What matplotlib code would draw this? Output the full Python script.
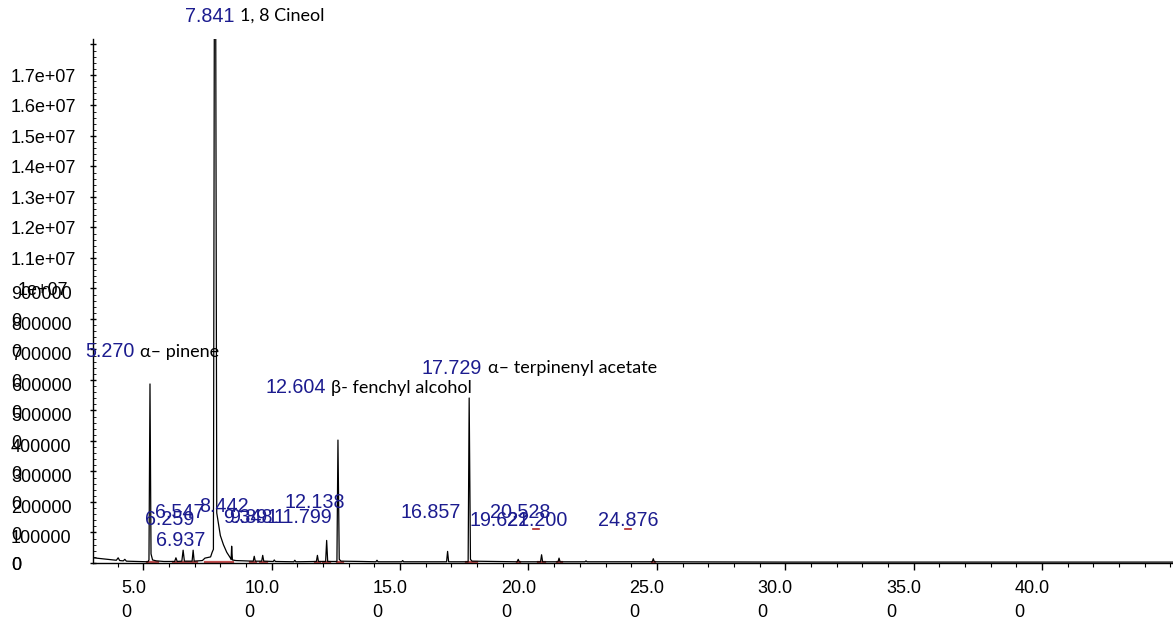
import numpy as np
import matplotlib
matplotlib.use("Agg")
import matplotlib.pyplot as plt
from matplotlib.ticker import FixedLocator, MultipleLocator
from matplotlib.transforms import ScaledTranslation, blended_transform_factory

# ── chromatogram trace: retention time (min) vs abundance (x1e6 counts) ─────────
TIME = [3.06, 3.5, 3.95, 4.02, 4.08, 4.22, 4.28, 4.34, 5.18, 5.22, 5.26, 5.30, 5.36,
        5.5, 5.8, 6.22, 6.27, 6.32, 6.50, 6.55, 6.60, 6.90, 6.94, 6.98, 7.30, 7.40,
        7.62, 7.68, 7.73, 7.79, 7.86, 8.0, 8.12, 8.25, 8.38, 8.42, 8.44, 8.47, 8.6,
        9.28, 9.32, 9.36, 9.61, 9.65, 9.69, 10.06, 10.1, 10.14, 10.86, 10.9, 10.94,
        11.74, 11.78, 11.82, 12.10, 12.14, 12.18, 12.54, 12.58, 12.63, 12.7, 13.5,
        14.06, 14.1, 14.14, 15.06, 15.1, 15.14, 16.81, 16.85, 16.89, 17.65, 17.69,
        17.74, 17.8, 19.56, 19.6, 19.64, 20.47, 20.51, 20.55, 21.15, 21.19, 21.23,
        22.2, 22.24, 22.28, 24.82, 24.86, 24.9, 30.0, 45.1]
ABUND = [0.17, 0.13, 0.09, 0.17, 0.08, 0.07, 0.12, 0.06, 0.04, 0.10, 5.87, 0.30, 0.10,
         0.07, 0.05, 0.05, 0.17, 0.05, 0.06, 0.42, 0.06, 0.06, 0.42, 0.06, 0.08, 0.16,
         0.20, 0.35, 0.45, 30.0, 1.64, 0.90, 0.60, 0.35, 0.18, 0.12, 0.55, 0.10, 0.08,
         0.06, 0.22, 0.06, 0.06, 0.25, 0.06, 0.05, 0.10, 0.05, 0.04, 0.09, 0.04,
         0.05, 0.25, 0.05, 0.05, 0.74, 0.05, 0.05, 4.03, 0.12, 0.06, 0.05,
         0.04, 0.09, 0.04, 0.04, 0.08, 0.04, 0.04, 0.38, 0.04, 0.04, 5.41,
         0.12, 0.06, 0.04, 0.12, 0.04, 0.04, 0.27, 0.04, 0.04, 0.16, 0.04,
         0.04, 0.07, 0.04, 0.04, 0.14, 0.04, 0.03, 0.03]

# integration baselines (red), start / end time (min)
BASE_START = [5.13, 6.16, 7.40, 9.15, 9.54, 11.70, 12.00, 12.53, 17.57, 19.54, 20.37, 21.10, 24.80]
BASE_END = [5.57, 7.08, 8.49, 9.40, 9.80, 11.90, 12.27, 12.79, 17.98, 19.67, 20.64, 21.30, 24.93]
MARK_START = [20.18, 23.76]
MARK_END = [20.40, 23.98]
MARK_LEVEL = 1.11

# named peaks
NAMED_RT = ["7.841", "5.270", "12.604", "17.729"]
NAMED_NAME = ["1, 8 Cineol", "α\u2013 pinene", "β- fenchyl alcohol", "α\u2013 terpinenyl acetate"]
NAMED_POS = [(6.62, 17.93), (2.73, 6.92), (9.74, 5.74), (15.85, 6.39)]

# unnamed peak labels
PEAK_RT = ["6.547", "6.259", "8.442", "6.937", "9.348", "9.891", "11.799", "12.138",
           "16.857", "19.622", "20.528", "21.200", "24.876"]
PEAK_POS = [(5.46, 1.64), (5.07, 1.41), (7.18, 1.85), (5.49, 0.75), (8.09, 1.48),
            (8.34, 1.48), (10.06, 1.48), (10.48, 1.98), (15.02, 1.64), (17.72, 1.39),
            (18.50, 1.64), (19.16, 1.39), (22.72, 1.39)]

X_TICKS = [5, 10, 15, 20, 25, 30, 35, 40]
X_LABELS = ["5.0\n0", "10.0\n0", "15.0\n0", "20.0\n0", "25.0\n0", "30.0\n0", "35.0\n0", "40.0\n0"]
Y_TICKS = list(range(0, 18))
Y_LABELS = (["0"] + [f"{k}00000\n0" for k in range(1, 10)]
            + ["1.1e+07", "1.2e+07", "1.3e+07", "1.4e+07", "1.5e+07", "1.6e+07", "1.7e+07", ""])
Y_EXTRA = (9, "1e+07")

BLUE = "#1c1c8f"
RED = "#b22222"
NUM_FONT = "Liberation Sans"
NAME_FONT = "Lato"

fig = plt.figure(figsize=(11.73, 6.21), dpi=100)
ax = fig.add_axes([93.5 / 1173, 58 / 621, 1 - 93.5 / 1173, 524 / 621])

ax.plot(TIME, ABUND, color="black", lw=0.9, zorder=3)
for s, e in zip(BASE_START, BASE_END):
    ax.plot([s, e], [0.04, 0.04], color=RED, lw=1.6, alpha=0.8, zorder=2)
for s, e in zip(MARK_START, MARK_END):
    ax.plot([s, e], [MARK_LEVEL, MARK_LEVEL], color=RED, lw=1.2, zorder=2)

ax.set_xlim(3.06, 45.1)
ax.set_ylim(0, 17.18)
for sp in ["top", "right"]:
    ax.spines[sp].set_visible(False)
for sp in ["left", "bottom"]:
    ax.spines[sp].set_linewidth(1.0)

# x axis
ax.xaxis.set_major_locator(FixedLocator(X_TICKS))
ax.set_xticklabels(X_LABELS)
ax.xaxis.set_minor_locator(MultipleLocator(1.0))
ax.tick_params(axis="x", which="major", direction="out", length=5, width=1, pad=7)
ax.tick_params(axis="x", which="minor", direction="out", length=3, width=0.8)
off = ScaledTranslation(-10 / 100, 0, fig.dpi_scale_trans)
for lab in ax.get_xticklabels():
    lab.set_fontfamily(NUM_FONT)
    lab.set_fontsize(13)
    lab.set_multialignment("left")
    lab.set_linespacing(1.6)
    lab.set_transform(lab.get_transform() + off)

# y axis
ax.yaxis.set_major_locator(FixedLocator(Y_TICKS))
ax.set_yticklabels(Y_LABELS)
ax.yaxis.set_minor_locator(MultipleLocator(0.2))
ax.tick_params(axis="y", which="major", direction="inout", length=5, width=1, pad=57)
ax.tick_params(axis="y", which="minor", direction="in", length=2.5, width=0.6)
yoff = ScaledTranslation(0, 6 / 100, fig.dpi_scale_trans)
yoff_wrap = ScaledTranslation(0, 2 / 100, fig.dpi_scale_trans)
for lab in ax.get_yticklabels():
    wrapped = "\n" in lab.get_text()
    lab.set_fontfamily(NUM_FONT)
    lab.set_fontsize(13)
    lab.set_horizontalalignment("left")
    lab.set_verticalalignment("top")
    lab.set_multialignment("left")
    lab.set_linespacing(1.75)
    lab.set_transform(lab.get_transform() + (yoff_wrap if wrapped else yoff))
ytr = blended_transform_factory(fig.transFigure, ax.transData)
ax.text(18 / 1173, Y_EXTRA[0], Y_EXTRA[1], transform=ytr + yoff, ha="left", va="top",
        fontsize=13, family=NUM_FONT)

# peak labels
for rt, name, (x, y) in zip(NAMED_RT, NAMED_NAME, NAMED_POS):
    t = ax.text(x, y, rt, color=BLUE, fontsize=14.2, family=NUM_FONT, ha="left", va="center",
                clip_on=False)
    ax.annotate(name, xy=(1, 0.5), xycoords=t, xytext=(4, 0), textcoords="offset points",
                ha="left", va="center", fontsize=13, family=NAME_FONT, color="black")
for rt, (x, y) in zip(PEAK_RT, PEAK_POS):
    ax.text(x, y, rt, color=BLUE, fontsize=14.2, family=NUM_FONT, ha="left", va="center")

fig.savefig("out.png", dpi=100)
